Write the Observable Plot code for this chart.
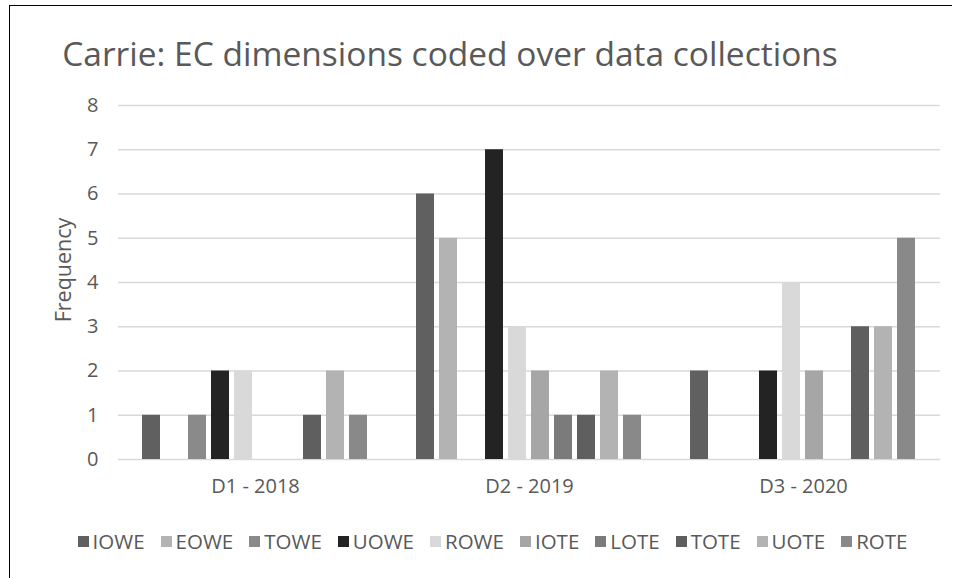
<!DOCTYPE html>
<html>
<head>
<meta charset="utf-8">
<script src="https://cdn.jsdelivr.net/npm/d3@7"></script>
<script src="https://cdn.jsdelivr.net/npm/@observablehq/plot@0.6"></script>
<style>
  html, body { margin: 0; padding: 0; background: #fff; }
  #frame {
    position: relative; width: 960px; height: 578px; overflow: hidden;
    font-family: "Open Sans", "Noto Sans", sans-serif; color: #595959;
  }
  #border {
    position: absolute; left: 9px; top: 5px; width: 942px; height: 600px;
    border-left: 1.5px solid #000; border-top: 1.5px solid #000;
  }
  #title {
    position: absolute; left: 0; top: 31px; width: 900px; text-align: center;
    font-size: 33.5px; line-height: 44px; color: #595959;
  }
  #ylabel {
    position: absolute; left: 62px; top: 270px;
    transform: translate(-50%, -50%) rotate(-90deg);
    font-size: 21.5px; white-space: nowrap; color: #595959;
  }
  #chart { position: absolute; left: 0; top: 80px; }
  #legend {
    position: absolute; left: 0; top: 527px; width: 985px;
    display: flex; justify-content: center; gap: 16px;
    font-size: 20.5px; line-height: 28px; color: #595959;
  }
  .item { display: flex; align-items: center; gap: 4px; }
  .sw { width: 11px; height: 11px; display: inline-block; }
</style>
</head>
<body>
<div id="frame">
  <div id="border"></div>
  <div id="title"></div>
  <div id="ylabel"></div>
  <div id="chart"></div>
  <div id="legend"></div>
</div>
<script>
// Data collections (groups along the x axis)
const collections = ["D1 - 2018", "D2 - 2019", "D3 - 2020"];

// EC dimensions (one bar per dimension in each collection)
const dimensions = ["IOWE", "EOWE", "TOWE", "UOWE", "ROWE", "IOTE", "LOTE", "TOTE", "UOTE", "ROTE"];

// Frequency counts per dimension, one value per collection
const IOWE = [1, 6, 2];
const EOWE = [0, 5, 0];
const TOWE = [1, 0, 0];
const UOWE = [2, 7, 2];
const ROWE = [2, 3, 4];
const IOTE = [0, 2, 2];
const LOTE = [0, 1, 0];
const TOTE = [1, 1, 3];
const UOTE = [2, 2, 3];
const ROTE = [1, 1, 5];

const yTicks = [0, 1, 2, 3, 4, 5, 6, 7, 8];

const titleText = "Carrie: EC dimensions coded over data collections";
const yLabelText = "Frequency";

const shades = ["#606060", "#b3b3b3", "#8a8a8a", "#232323", "#d9d9d9",
                "#a6a6a6", "#7b7b7b", "#5f5f5f", "#b3b3b3", "#898989"];

const seriesValues = [IOWE, EOWE, TOWE, UOWE, ROWE, IOTE, LOTE, TOTE, UOTE, ROTE];

const rows = [];
collections.forEach((c, i) => {
  dimensions.forEach((d, j) => {
    rows.push({collection: c, dimension: d, value: seriesValues[j][i]});
  });
});

const W = 960, H = 420;

const chart = Plot.plot({
  width: W,
  height: H,
  marginTop: 25,
  marginBottom: 41,
  marginLeft: 117,
  marginRight: 20,
  style: {fontFamily: "'Open Sans', 'Noto Sans', sans-serif", fontSize: "20px", color: "#595959", background: "transparent"},
  fx: {domain: collections, padding: 0, label: null},
  x: {domain: dimensions, paddingInner: 0.208, paddingOuter: 0.85, axis: null},
  y: {domain: [0, 8], label: null},
  color: {domain: dimensions, range: shades},
  marks: [
    Plot.gridY(yTicks, {stroke: "#d9d9d9", strokeOpacity: 1, strokeWidth: 1.3}),
    Plot.barY(rows, {fx: "collection", x: "dimension", y: "value", fill: "dimension"}),
    Plot.axisY(yTicks, {tickSize: 0, tickPadding: 20, label: null, fontSize: 20, fill: "#595959"}),
    Plot.axisFx({anchor: "bottom", tickSize: 0, tickPadding: 19, label: null, fontSize: 20, fill: "#595959"})
  ]
});
document.getElementById("chart").appendChild(chart);

document.getElementById("title").textContent = titleText;
document.getElementById("ylabel").textContent = yLabelText;

const legend = document.getElementById("legend");
dimensions.forEach((d, j) => {
  const item = document.createElement("span");
  item.className = "item";
  const sw = document.createElement("span");
  sw.className = "sw";
  sw.style.background = shades[j];
  const lab = document.createElement("span");
  lab.textContent = d;
  item.appendChild(sw);
  item.appendChild(lab);
  legend.appendChild(item);
});
</script>
</body>
</html>
